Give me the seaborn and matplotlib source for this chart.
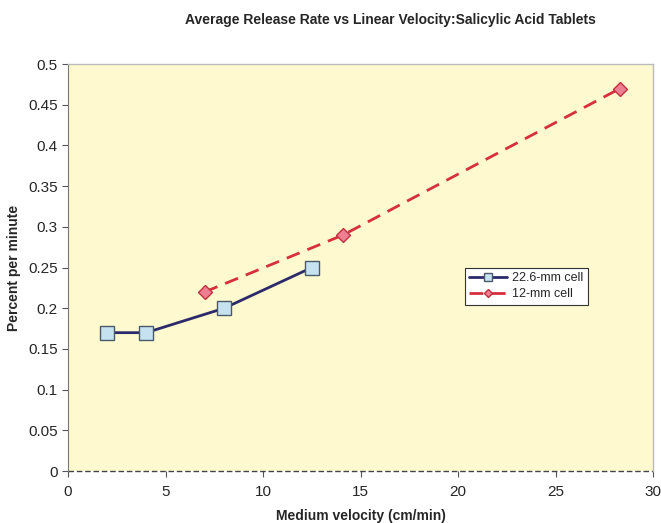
import matplotlib
matplotlib.use('Agg')
import matplotlib.pyplot as plt
import seaborn as sns
import pandas as pd

# data
vel_226 = [2.0, 4.0, 8.0, 12.5]
rate_226 = [0.17, 0.17, 0.20, 0.25]
vel_12 = [7.0, 14.1, 28.3]
rate_12 = [0.22, 0.29, 0.47]
x_ticks = [0, 5, 10, 15, 20, 25, 30]
y_ticks = [0, 0.05, 0.1, 0.15, 0.2, 0.25, 0.3, 0.35, 0.4, 0.45, 0.5]

sns.set_style('white')
plt.rcParams['font.family'] = ['Liberation Sans', 'DejaVu Sans']

fig = plt.figure(figsize=(6.61, 5.23), dpi=100)
ax = fig.add_axes([0.103, 0.0994, 0.885, 0.778])
ax.set_facecolor('#fff9cf')

df_a = pd.DataFrame({'x': vel_226, 'y': rate_226})
df_b = pd.DataFrame({'x': vel_12, 'y': rate_12})

sns.lineplot(data=df_a, x='x', y='y', ax=ax, color='#2b2a6b', linewidth=2,
             marker='s', markersize=10, markerfacecolor='#c6e2f0',
             markeredgecolor='#4a5a6a', markeredgewidth=1, label='22.6-mm cell')
sns.lineplot(data=df_b, x='x', y='y', ax=ax, color='#d6303c', linewidth=2,
             linestyle=(0, (5, 3)), marker='D', markersize=7,
             markerfacecolor='#ee7f90', markeredgecolor='#c03040',
             markeredgewidth=1, label='12-mm cell')

ax.set_xlim(0, 30)
ax.set_ylim(0, 0.5)
ax.set_xticks(x_ticks)
ax.set_yticks(y_ticks)
ax.set_yticklabels([f'{v:g}' for v in y_ticks])
ax.tick_params(axis='both', labelsize=11, length=4, direction='out', color='#555555')
ax.tick_params(axis='x', pad=6)

for side in ['top', 'right']:
    ax.spines[side].set_color('#bbbbbb')
    ax.spines[side].set_linewidth(1)
ax.spines['left'].set_color('#777777')
ax.spines['bottom'].set_visible(False)
ax.axhline(0, color='#444444', linestyle=(0, (4, 2)), linewidth=1, clip_on=False)
ax.xaxis.set_ticks_position('bottom')
ax.yaxis.set_ticks_position('left')

ax.set_xlabel('Medium velocity (cm/min)', fontsize=10, fontweight='bold', labelpad=7)
ax.set_ylabel('Percent per minute', fontsize=10, fontweight='bold', labelpad=5)
fig.suptitle('Average Release Rate vs Linear Velocity:Salicylic Acid Tablets',
             x=0.59, y=0.975, fontsize=10, fontweight='bold')

leg = ax.legend(loc='upper left', bbox_to_anchor=(0.668, 0.515), fontsize=9,
                frameon=True, fancybox=False, edgecolor='#333333',
                facecolor='white', framealpha=1, handlelength=3,
                markerscale=0.6, borderpad=0.35, labelspacing=0.35,
                handletextpad=0.4)
leg.get_frame().set_linewidth(0.8)

fig.savefig('out.png', dpi=100)
